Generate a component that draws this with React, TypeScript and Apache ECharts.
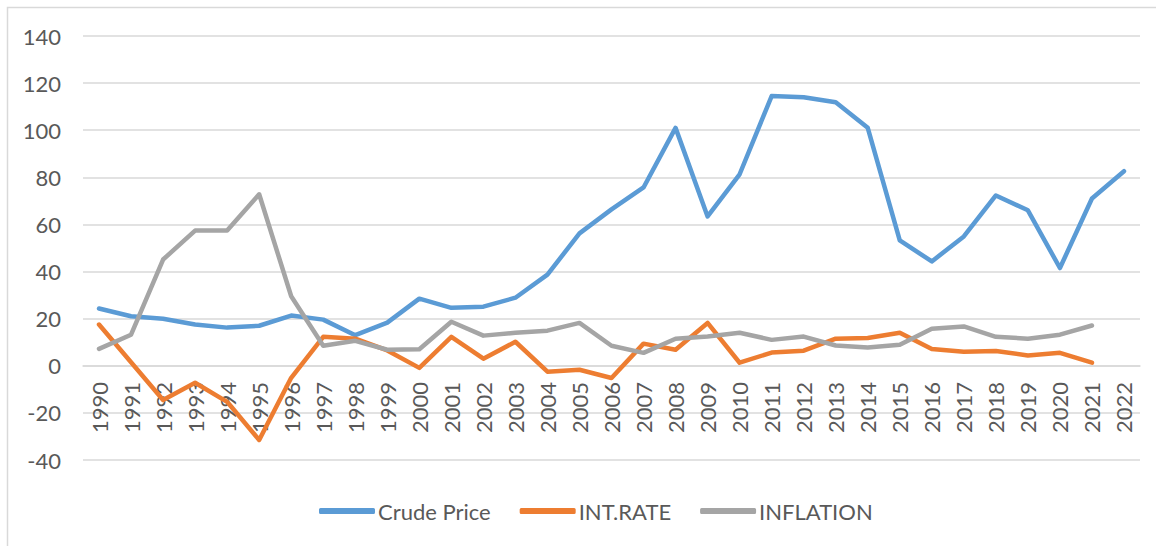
import React, { useEffect, useRef } from "react";
import * as echarts from "echarts";

const years = [
  "1990", "1991", "1992", "1993", "1994", "1995", "1996", "1997", "1998", "1999",
  "2000", "2001", "2002", "2003", "2004", "2005", "2006", "2007", "2008", "2009",
  "2010", "2011", "2012", "2013", "2014", "2015", "2016", "2017", "2018", "2019",
  "2020", "2021", "2022",
];

const crudePrice = [
  24.3, 21, 20, 17.5, 16.2, 17, 21.3, 19.6, 13, 18.3,
  28.5, 24.6, 25.1, 28.9, 38.7, 56.2, 66.4, 75.7, 101, 63.4,
  81.3, 114.5, 114, 111.9, 101, 53.2, 44.3, 54.9, 72.3, 66,
  41.5, 71, 82.6,
];

const intRate = [
  17.5, 1.5, -14.5, -7.2, -15.3, -31.5, -5.1, 12.3, 11.5, 6.5,
  -0.9, 12.3, 3, 10.2, -2.5, -1.7, -5.2, 9.4, 6.8, 18.2,
  1.3, 5.6, 6.4, 11.5, 11.8, 14, 7.1, 6, 6.3, 4.4,
  5.5, 1.3, null,
];

const inflation = [
  7.2, 13.2, 45.1, 57.4, 57.4, 72.8, 29.5, 8.5, 10.6, 6.8,
  7, 18.7, 12.8, 14, 14.9, 18.2, 8.5, 5.5, 11.5, 12.4,
  14, 11, 12.4, 8.6, 7.8, 8.9, 15.7, 16.7, 12.3, 11.5,
  13.2, 17.1, null,
];

const seriesNames = ["Crude Price", "INT.RATE", "INFLATION"];
const colors = ["#5b9bd5", "#ed7d31", "#a5a5a5"];

const FONT = "Lato";
const TEXT = "#595959";

export default function App() {
  const ref = useRef<HTMLDivElement>(null);

  useEffect(() => {
    if (!ref.current) return;
    const chart = echarts.init(ref.current, undefined, { renderer: "svg" });
    const data = [crudePrice, intRate, inflation];
    chart.setOption({
      animation: false,
      backgroundColor: "#ffffff",
      color: colors,
      textStyle: { fontFamily: FONT },
      graphic: [
        {
          type: "rect",
          shape: { x: 7.5, y: 7.5, width: 1170, height: 570 },
          style: { fill: "none", stroke: "#d9d9d9", lineWidth: 1.5 },
          silent: true,
        },
      ],
      grid: { left: 83, right: 16, top: 36, bottom: 86, containLabel: false },
      legend: {
        bottom: 19,
        left: 314,
        padding: 5,
        itemWidth: 56,
        itemHeight: 6,
        itemGap: 29,
        icon: "roundRect",
        textStyle: { color: TEXT, fontSize: 22, fontFamily: FONT, padding: [0, 0, 0, -2] },
        data: seriesNames,
      },
      xAxis: {
        type: "category",
        data: years,
        boundaryGap: true,
        position: "bottom",
        offset: -94,
        axisLine: { show: true, onZero: false, lineStyle: { color: "#d9d9d9", width: 1.5 } },
        axisTick: { show: false },
        axisLabel: {
          rotate: 90,
          interval: 0,
          margin: 16,
          color: TEXT,
          fontSize: 22,
          fontFamily: FONT,
        },
      },
      yAxis: {
        type: "value",
        min: -40,
        max: 140,
        interval: 20,
        axisLine: { show: false },
        axisTick: { show: false },
        axisLabel: { color: TEXT, fontSize: 22, fontFamily: FONT, margin: 22 },
        splitLine: { lineStyle: { color: "#d9d9d9", width: 1.5 } },
      },
      series: seriesNames.map((name, i) => ({
        name,
        type: "line",
        data: data[i],
        symbol: "none",
        lineStyle: { width: 4.5, color: colors[i], cap: "round", join: "round" },
        itemStyle: { color: colors[i] },
      })),
    });
    return () => chart.dispose();
  }, []);

  return (
    <div
      ref={ref}
      style={{ position: "fixed", left: 0, top: 0, width: 1156, height: 546 }}
    />
  );
}
